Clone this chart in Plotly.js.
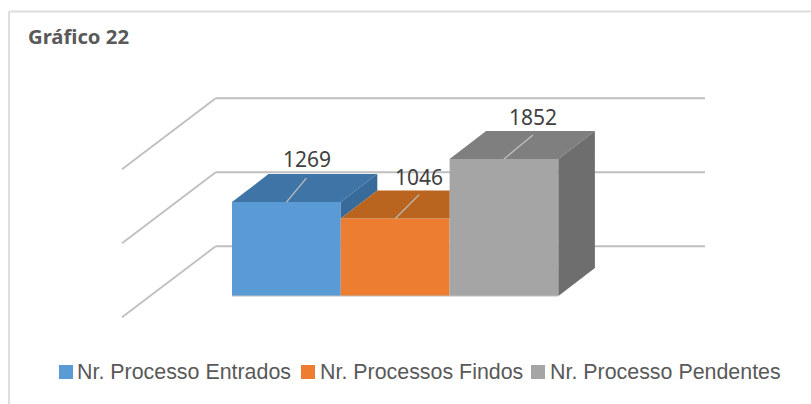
<!DOCTYPE html>
<html><head><meta charset="utf-8">
<script src="https://cdn.plot.ly/plotly-3.0.1.min.js"></script>
<style>html,body{margin:0;padding:0;background:#fff}#c{width:811px;height:404px}</style>
</head><body><div id="c"></div>
<script>
const seriesNames = ['Nr. Processo Entrados','Nr. Processos Findos','Nr. Processo Pendentes'];
const seriesValues = [1269,1046,1852];
const frontColors = ['#5B9BD5','#ED7D31','#A5A5A5'];
const topColors = ['#3F74A6','#B9641F','#7F7F7F'];
const sideColors = ['#386A9A','#A85A1E','#6E6E6E'];
const gridValues = [0,1000,2000];
const chartTitle = 'Gráfico 22';

const W=811,H=404;
const pxX=108.8, pxY=0.074, x0=232, y0=296;
const xr=[-0.5-x0/pxX, -0.5+(W-x0)/pxX];
const yr=[-(H-y0)/pxY, y0/pxY];
const DX=36.5/pxX, DY=28/pxY;         // bar depth
const wallY=672, wallL=-0.5-16.3/pxX, wallR=-0.5+(705-x0)/pxX, diagX=93.7/pxX, diagY=71/pxY;
const GRID='#BFBFBF';
const n=seriesValues.length, traces=[], shapes=[], annotations=[];

const leaderDX=[20/pxX,24/pxX,29/pxX], leaderDY=24/pxY, labelDX=[20.5/pxX,24/pxX,29/pxX], labelDY=[43/pxY,42/pxY,42/pxY];

gridValues.forEach(g=>{
  const y=g+wallY;
  shapes.push({type:'line',layer:'below',xref:'x',yref:'y',x0:wallL,x1:wallR,y0:y,y1:y,line:{color:GRID,width:1.8}});
  shapes.push({type:'line',layer:'below',xref:'x',yref:'y',x0:wallL,x1:wallL-diagX,y0:y,y1:y-diagY,line:{color:GRID,width:1.8}});
});

seriesValues.forEach((v,i)=>{
  traces.push({type:'bar',x:[i],y:[v],width:1,name:seriesNames[i],marker:{color:frontColors[i],line:{width:0}},showlegend:false,hoverinfo:'name+y'});
});
function poly(xs,ys,c){traces.push({type:'scatter',mode:'lines',x:xs.concat(xs[0]),y:ys.concat(ys[0]),fill:'toself',fillcolor:c,line:{width:0,color:c},showlegend:false,hoverinfo:'skip'});}
seriesValues.forEach((v,i)=>{
  const l=i-0.5,r=i+0.5,next=seriesValues[i+1];
  // top face, cut where the next (taller) bar stands in front of it
  if(next!==undefined&&next>v) poly([l,l+DX,r,r],[v,v+DY,v+DY,v],topColors[i]);
  else poly([l,l+DX,r+DX,r],[v,v+DY,v+DY,v],topColors[i]);
  // side face, hidden behind the next bar up to its top
  if(next===undefined) poly([r,r+DX,r+DX,r],[v,v+DY,DY,0],sideColors[i]);
  else if(next<v) poly([r,r+DX,r+DX,r],[v,v+DY,next+DY,next],sideColors[i]);
});
traces.push({type:'scatter',mode:'lines',x:[-0.5,n-0.5],y:[0,0],line:{color:GRID,width:1.2},showlegend:false,hoverinfo:'skip'});
seriesValues.forEach((v,i)=>{
  traces.push({type:'scatter',mode:'lines',x:[i,i+leaderDX[i]],y:[v,v+leaderDY],line:{color:'#BFBFBF',width:1.3},showlegend:false,hoverinfo:'skip'});
  annotations.push({xref:'x',yref:'y',x:i+labelDX[i],y:v+labelDY[i],text:String(v),showarrow:false,xanchor:'center',yanchor:'middle',
    font:{family:'Noto Sans',size:21,color:'#404040'}});
});

// legend
const legendX=[59,301,531], legendTextX=[75,318,547.5];
seriesNames.forEach((s,i)=>{
  shapes.push({type:'rect',xref:'paper',yref:'paper',x0:legendX[i]/W,x1:(legendX[i]+14)/W,y0:1-379/H,y1:1-365/H,fillcolor:frontColors[i],line:{width:0}});
  annotations.push({xref:'paper',yref:'paper',x:legendTextX[i]/W,y:1-371.5/H,text:s,showarrow:false,xanchor:'left',yanchor:'middle',
    font:{family:'Liberation Sans',size:21.4,color:'#595959'}});
});
// chart frame: top and left edges are the only ones inside the picture
shapes.push({type:'line',xref:'paper',yref:'paper',x0:9/W,x1:1,y0:1-11.5/H,y1:1-11.5/H,line:{color:'#DDDDDD',width:2}});
shapes.push({type:'line',xref:'paper',yref:'paper',x0:9/W,x1:9/W,y0:0,y1:1-11.5/H,line:{color:'#DDDDDD',width:2}});

Plotly.newPlot('c',traces,{
  width:W,height:H,margin:{l:0,r:0,t:0,b:0},
  paper_bgcolor:'#fff',plot_bgcolor:'#fff',showlegend:false,barmode:'overlay',
  title:{text:'<b>'+chartTitle+'</b>',x:28/W,xanchor:'left',y:1-37/H,yanchor:'middle',font:{family:'Noto Sans',size:20.3,color:'#595959'}},
  xaxis:{range:xr,visible:false,fixedrange:true},
  yaxis:{range:yr,visible:false,fixedrange:true},
  shapes,annotations
},{displayModeBar:false,staticPlot:true});
</script></body></html>
